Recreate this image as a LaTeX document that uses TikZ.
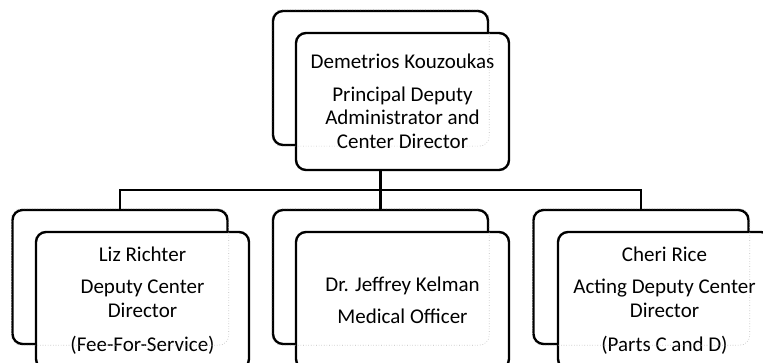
\documentclass[tikz,border=0pt]{standalone}
\usepackage{fontspec}
\setmainfont{Carlito}
\usetikzlibrary{positioning}

\begin{document}
\begin{tikzpicture}[
    x=1pt, y=-1pt,
    backbox/.style={rectangle, rounded corners=10pt, draw=black, line width=2.4pt, fill=white, minimum width=215pt, minimum height=134pt},
    frontbox/.style={rectangle, rounded corners=10pt, draw=black, line width=2.4pt, fill=white, minimum width=213pt, minimum height=137pt, align=center, font=\fontsize{21}{23.5}\selectfont},
    hidden/.style={draw=gray!55, dotted, line width=0.6pt, rounded corners=10pt},
    link/.style={draw=black, line width=2.4pt}
]
\clip (0,0) rectangle (763,363);

% Top
\node[backbox] (topback) at (380.5, 78) {};
\node[frontbox] (topfront) at (402.5, 101.5) {Demetrios Kouzoukas\\[9pt]Principal Deputy\\Administrator and\\Center Director};

% Bottom row
\node[backbox] (leftback) at (120, 277) {};
\node[frontbox] (leftfront) at (142.5, 300.5) {Liz Richter\\[9pt]Deputy Center\\Director\\[11pt](Fee-For-Service)};

\node[backbox] (midback) at (380.5, 277) {};
\node[frontbox] (midfront) at (402.5, 300.5) {Dr. Jeffrey Kelman\\[9pt]Medical Officer};

\node[backbox] (rightback) at (641, 277) {};
\node[frontbox] (rightfront) at (664.5, 300.5) {Cheri Rice\\[9pt]Acting Deputy Center\\Director\\[11pt](Parts C and D)};

% Hidden edges of the back boxes
\foreach \b in {topback, leftback, midback, rightback}
    \draw[hidden] (\b.north west) rectangle (\b.south east);

% Connectors
\coordinate (bus) at (380.5, 190);
\draw[link] (topback |- topfront.south) -- (bus);
\draw[link] (bus) -| (leftback.north);
\draw[link] (bus) -- (midback.north);
\draw[link] (bus) -| (rightback.north);

\end{tikzpicture}
\end{document}
